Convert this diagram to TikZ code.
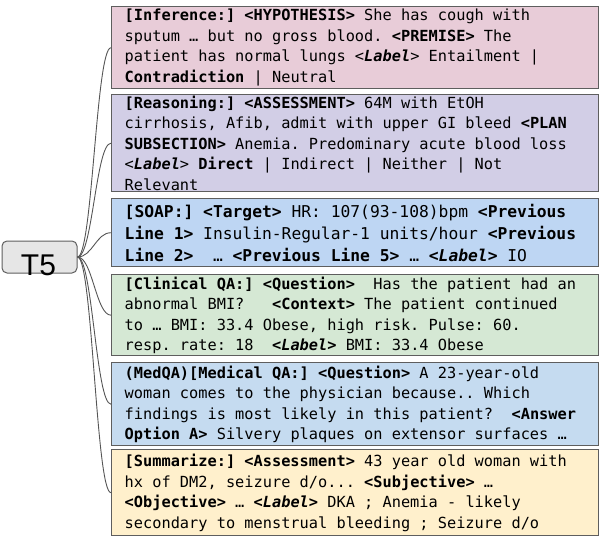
\documentclass[tikz,border=0pt]{standalone}
\usepackage{fontspec}
\setmonofont{DejaVu Sans Mono}
\newfontfamily\tfivefont{Liberation Sans}
\definecolor{bordergray}{HTML}{5E5E5E}
\definecolor{linegray}{HTML}{555555}
\definecolor{cpink}{HTML}{E8CCD8}
\definecolor{clav}{HTML}{D2CEE6}
\definecolor{cblue}{HTML}{BED6F3}
\definecolor{cgreen}{HTML}{D5E8D4}
\definecolor{cblueb}{HTML}{C5DBF0}
\definecolor{cyell}{HTML}{FFF0CC}
\definecolor{tgray}{HTML}{E6E6E6}
\newcommand\bfx[1]{\textbf{#1}}
\newcommand\lblx{\textbf{\textit{<Label>}}}
\newcommand\lbly{\textit{<\textbf{Label}>}}
\newcommand\fixspaces{\spaceskip=0pt\xspaceskip=0pt\relax}
\tikzset{
  tbox/.style={draw=bordergray, line width=1.4pt, anchor=north west,
    inner xsep=13pt, inner ysep=0pt, text width=461pt, align=left,
    font=\ttfamily\fontsize{15.3}{20.5}\selectfont},
  t5box/.style={draw=bordergray, line width=1pt, fill=tgray, rounded corners=5pt,
    minimum width=75pt, minimum height=32pt, inner sep=0pt},
  t5text/.style={font=\tfivefont\fontsize{30}{30}\selectfont, anchor=base, inner sep=0pt},
  conn/.style={draw=linegray, line width=0.9pt, out=0, in=180, out distance=15pt, in distance=15pt}
}
\begin{document}
\begin{tikzpicture}[x=1pt, y=-1pt]
\useasboundingbox (0,0) rectangle (604,540);

\node[tbox, fill=cpink, minimum height=82pt] (b1) at (111,6) {\fixspaces
\bfx{[Inference:]} \bfx{<HYPOTHESIS>} She has cough with\\
sputum … but no gross blood. \bfx{<PREMISE>} The\\
patient has normal lungs \lbly{} Entailment |\\
\bfx{Contradiction} | Neutral};

\node[tbox, fill=clav, minimum height=97pt] (b2) at (111,94) {\fixspaces
\bfx{[Reasoning:]} \bfx{<ASSESSMENT>} 64M with EtOH\\
cirrhosis, Afib, admit with upper GI bleed \bfx{<PLAN}\\
\bfx{SUBSECTION>} Anemia. Predominary acute blood loss\\
\lbly{} \bfx{Direct} | Indirect | Neither | Not\\
Relevant};

\node[tbox, fill=cblue, minimum height=68pt, font=\ttfamily\fontsize{16.3}{22}\selectfont] (b3) at (111,198) {\fixspaces
\bfx{[SOAP:]} \bfx{<Target>} HR: 107(93-108)bpm \bfx{<Previous}\\
\bfx{Line 1>} Insulin-Regular-1 units/hour \bfx{<Previous}\\
\bfx{Line 2>}~ … \bfx{<Previous Line 5>} … \lblx{} IO};

\node[tbox, fill=cgreen, minimum height=81pt] (b4) at (111,274) {\fixspaces
\bfx{[Clinical QA:]} \bfx{<Question>}~ Has the patient had an\\
abnormal BMI?~~ \bfx{<Context>} The patient continued\\
to … BMI: 33.4 Obese, high risk. Pulse: 60.\\
resp. rate: 18~ \lblx{} BMI: 33.4 Obese};

\node[tbox, fill=cblueb, minimum height=83pt] (b5) at (111,362) {\fixspaces
\bfx{(MedQA)[Medical QA:]} \bfx{<Question>} A 23-year-old\\
woman comes to the physician because.. Which\\
findings is most likely in this patient?~ \bfx{<Answer}\\
\bfx{Option A>} Silvery plaques on extensor surfaces …};

\node[tbox, fill=cyell, minimum height=86pt] (b6) at (111,449) {\fixspaces
\bfx{[Summarize:]} \bfx{<Assessment>} 43 year old woman with\\
hx of DM2, seizure d/o... \bfx{<Subjective>} …\\
\bfx{<Objective>} … \lblx{} DKA ; Anemia - likely\\
secondary to menstrual bleeding ; Seizure d/o};

\node[t5box] (t5) at (39.5,257) {};
\node[t5text] (t5txt) at (38.5,275) {T5};

\foreach \b in {b1,b2,b3,b4,b5,b6}
  \draw[conn] (t5.east) to (\b.west);
\end{tikzpicture}
\end{document}
